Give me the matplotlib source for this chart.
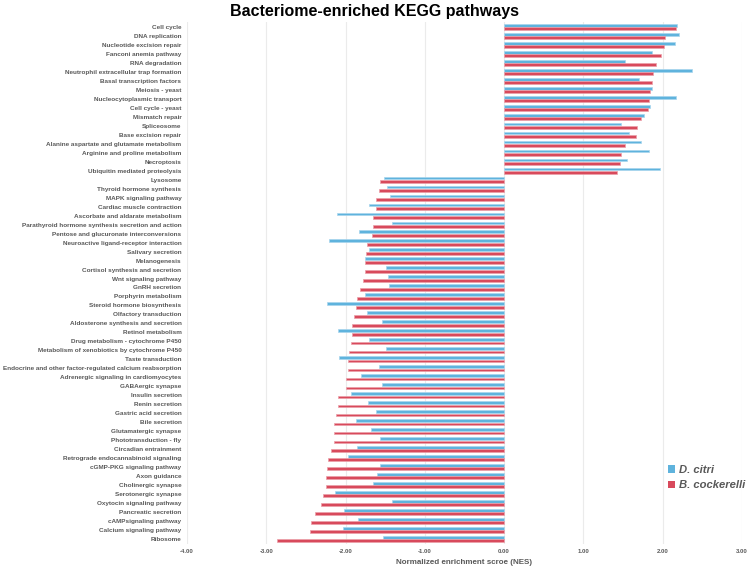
import matplotlib
matplotlib.use("Agg")
import matplotlib.pyplot as plt
import numpy as np
from matplotlib.patches import Patch

pathways = [
    "Cell cycle", "DNA replication", "Nucleotide excision repair", "Fanconi anemia pathway",
    "RNA degradation", "Neutrophil extracellular trap formation", "Basal transcription factors",
    "Meiosis - yeast", "Nucleocytoplasmic transport", "Cell cycle - yeast", "Mismatch repair",
    "Spliceosome", "Base excision repair", "Alanine aspartate and glutamate metabolism",
    "Arginine and proline metabolism", "Necroptosis", "Ubiquitin mediated proteolysis",
    "Lysosome", "Thyroid hormone synthesis", "MAPK signaling pathway", "Cardiac muscle contraction",
    "Ascorbate and aldarate metabolism", "Parathyroid hormone synthesis secretion and action",
    "Pentose and glucuronate interconversions", "Neuroactive ligand-receptor interaction",
    "Salivary secretion", "Melanogenesis", "Cortisol synthesis and secretion",
    "Wnt signaling pathway", "GnRH secretion", "Porphyrin metabolism",
    "Steroid hormone biosynthesis", "Olfactory transduction", "Aldosterone synthesis and secretion",
    "Retinol metabolism", "Drug metabolism - cytochrome P450",
    "Metabolism of xenobiotics by cytochrome P450", "Taste transduction",
    "Endocrine and other factor-regulated calcium reabsorption",
    "Adrenergic signaling in cardiomyocytes", "GABAergic synapse", "Insulin secretion",
    "Renin secretion", "Gastric acid secretion", "Bile secretion", "Glutamatergic synapse",
    "Phototransduction - fly", "Circadian entrainment", "Retrograde endocannabinoid signaling",
    "cGMP-PKG signaling pathway", "Axon guidance", "Cholinergic synapse", "Serotonergic synapse",
    "Oxytocin signaling pathway", "Pancreatic secretion", "cAMPsignaling pathway",
    "Calcium signaling pathway", "Ribosome",
]

d_citri = [
    2.18, 2.21, 2.15, 1.87, 1.53, 2.37, 1.70, 1.87, 2.17, 1.84, 1.77, 1.48, 1.58, 1.73,
    1.83, 1.55, 1.96,
    -1.52, -1.48, -1.44, -1.71, -2.11, -1.42, -1.83, -2.21, -1.71, -1.76, -1.49, -1.46,
    -1.45, -1.76, -2.24, -1.73, -1.54, -2.10, -1.70, -1.49, -2.08, -1.58, -1.81, -1.54,
    -1.93, -1.72, -1.62, -1.87, -1.68, -1.57, -1.86, -1.97, -1.57, -1.60, -1.65, -2.13,
    -1.42, -2.02, -1.84, -2.03, -1.53,
]

b_cockerelli = [
    2.17, 2.03, 2.02, 1.98, 1.92, 1.88, 1.87, 1.84, 1.83, 1.82, 1.73, 1.67, 1.66, 1.52,
    1.48, 1.46, 1.43,
    -1.56, -1.58, -1.62, -1.62, -1.65, -1.66, -1.67, -1.73, -1.74, -1.75, -1.76, -1.78,
    -1.82, -1.85, -1.87, -1.89, -1.92, -1.92, -1.93, -1.96, -1.97, -1.97, -2.00, -2.00,
    -2.09, -2.10, -2.12, -2.15, -2.15, -2.15, -2.18, -2.22, -2.23, -2.25, -2.25, -2.28,
    -2.31, -2.38, -2.43, -2.45, -2.87,
]

xticks = [-4, -3, -2, -1, 0, 1, 2, 3]

blue = "#5FB3DD"
red = "#D84A5C"
grey = "#595959"

plt.rcParams['font.family'] = ['Liberation Sans', 'DejaVu Sans']

fig = plt.figure(figsize=(7.5, 5.66), dpi=100)
ax = fig.add_axes([0.2493, 0.039, 0.74, 0.922])

y = np.arange(len(pathways))
h = 0.33
ax.barh(y - 0.17, d_citri, height=h, color=blue, edgecolor="#A9D6EE", linewidth=0.5, zorder=3)
ax.barh(y + 0.17, b_cockerelli, height=h, color=red, edgecolor="#EBA0AA", linewidth=0.5, zorder=3)

ax.set_ylim(len(pathways) - 0.5, -0.5)
ax.set_xlim(-4, 3)
ax.set_yticks(y)
ax.set_yticklabels(pathways, fontsize=4.6, fontweight="bold", color=grey)
ax.set_xticks(xticks)
ax.set_xticklabels([f"{v:.2f}" for v in xticks], fontsize=4.3, fontweight="bold", color=grey)
ax.tick_params(axis="both", length=0, pad=4)
for s in ax.spines.values():
    s.set_visible(False)
ax.grid(axis="x", color="#EBEBEB", linewidth=0.8, zorder=0)
ax.set_axisbelow(True)
ax.set_xlabel("Normalized enrichment scroe (NES)", fontsize=5.8, fontweight="bold",
              color=grey, labelpad=3)

fig.suptitle("Bacteriome-enriched KEGG pathways", fontsize=11.5, fontweight="bold",
             x=0.5, y=0.993, color="#000000")

handles = [Patch(facecolor=blue, edgecolor="none"), Patch(facecolor=red, edgecolor="none")]
leg = ax.legend(handles, ["D. citri", "B. cockerelli"], loc="upper left",
                bbox_to_anchor=(0.857, 0.162), frameon=False, handlelength=0.6,
                handleheight=0.6, handletextpad=0.4, labelspacing=0.45, borderpad=0,
                prop={"size": 8.1, "weight": "bold", "style": "italic"})
for t in leg.get_texts():
    t.set_color(grey)

fig.savefig("out.png", dpi=100)
